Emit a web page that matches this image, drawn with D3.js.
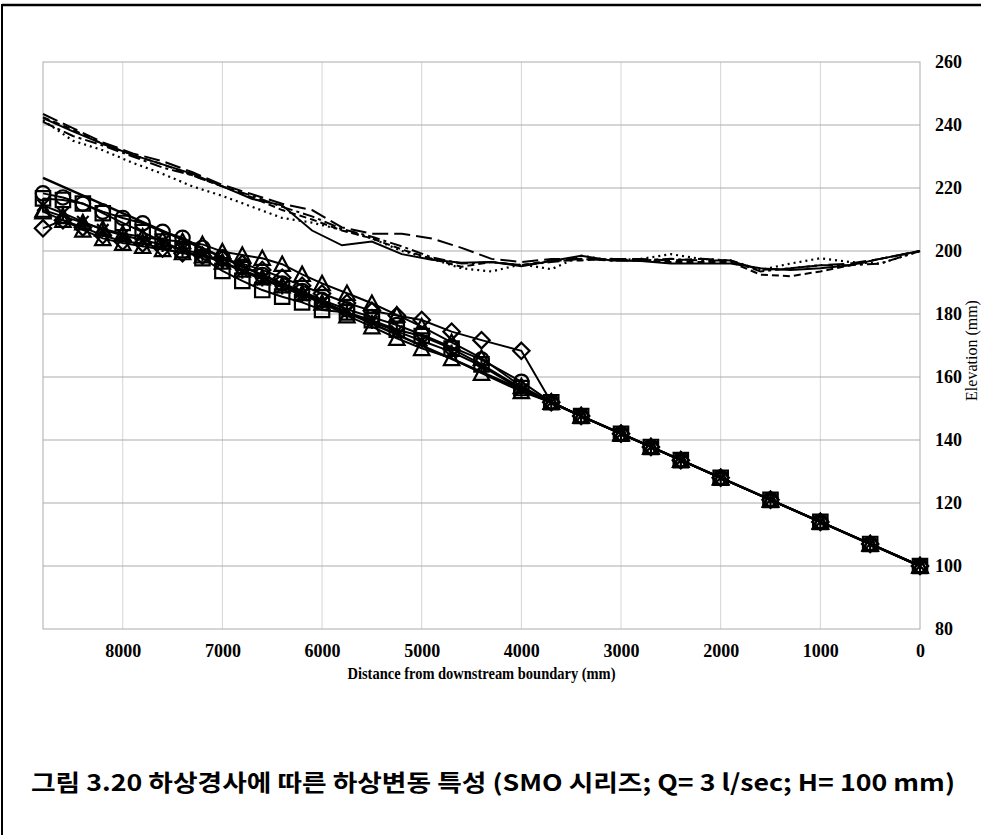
<!DOCTYPE html>
<html>
<head>
<meta charset="utf-8">
<script src="https://cdn.jsdelivr.net/npm/d3@7"></script>
<style>
  html, body { margin: 0; padding: 0; background: #fff; }
  svg { display: block; }
</style>
</head>
<body>
<script>
// Distance from the downstream boundary (mm) at the bed survey stations
const bedDist = [8800, 8600, 8400, 8200, 8000, 7800, 7600, 7400, 7200, 7000, 6800, 6600, 6400, 6200, 6000,
                 5750, 5500, 5250, 5000, 4700, 4400, 4000, 3700, 3400, 3000, 2700, 2400, 2000, 1500, 1000, 500, 0];

// Bed elevation (mm) for each run, one marker style per run
const bedCircle   = [218.3, 217, 215, 212.5, 210.5, 208.8, 206.1, 204.2, 201, 198, 195, 192.4, 189.7, 187.3, 184.4,
                     181.5, 179, 176.5, 173.5, 169.5, 165.5, 158.5, 152, 147.6, 142, 137.8, 133.6, 128, 121, 114, 107, 100];
const bedSquare   = [216.7, 216.2, 215.1, 212, 208.9, 206, 203, 200.3, 197.7, 193.7, 190.5, 187.6, 185.5, 183.7, 181.3,
                     180.5, 178, 175, 173, 169, 164, 156.5, 152, 147.6, 142, 137.8, 133.6, 128, 121, 114, 107, 100];
const bedTriangleA = [213, 211, 209, 207, 205.5, 204.5, 203.5, 203, 202.1, 199.8, 198.7, 197.7, 195.8, 192.6, 189.7,
                     186.6, 183.4, 179.7, 176, 171, 166, 157, 152, 147.6, 142, 137.8, 133.6, 128, 121, 114, 107, 100];
const bedTriangleB = [212.5, 209.8, 206.7, 204, 202.5, 201.5, 200.5, 199.5, 198.5, 196.5, 194, 191.5, 189, 186.5, 183.5,
                     179.5, 176, 172.3, 169.1, 165.9, 161.2, 155.4, 152, 147.6, 142, 137.8, 133.6, 128, 121, 114, 107, 100];
const bedDiamond  = [207.2, 209.8, 207.5, 205, 203, 202.4, 200.8, 199.3, 198.5, 197.5, 196, 194, 191.5, 189, 186.5,
                     183.5, 181, 179.5, 178.1, 174.4, 171.7, 168.3, 152, 147.6, 142, 137.8, 133.6, 128, 121, 114, 107, 100];
const bedCross    = [214.5, 212, 209.3, 206.7, 205, 203.5, 202, 200.5, 199, 196.5, 193.5, 191, 188.5, 186, 183.5,
                     180.5, 177.5, 174.5, 171.5, 168, 163.5, 156, 152, 147.6, 142, 137.8, 133.6, 128, 121, 114, 107, 100];

// Initial bed (straight slope)
const initDist = [8800, 0];
const initBed  = [223.2, 100];

// Water surface elevation (mm)
const wsDist = [8800, 8500, 8200, 7900, 7600, 7300, 7000, 6700, 6400, 6100, 5800, 5500, 5200, 4900, 4600, 4300,
                4000, 3700, 3400, 3100, 2800, 2500, 2200, 1900, 1600, 1300, 1000, 700, 400, 0];
const wsSolid    = [242.2, 238, 234, 230.5, 227.5, 224.5, 220.5, 216.5, 214.5, 206.5, 201.8, 203, 199, 197.2, 196.3, 196.5,
                    195.2, 196.8, 198.5, 197, 196.8, 196, 196, 196, 194.5, 194, 194.5, 195.5, 197.5, 200];
const wsLongDash = [243.5, 239, 234.5, 231, 228.5, 225, 221, 218, 215, 213, 207.5, 205.5, 205.5, 204, 201, 197.5,
                    196.5, 197.5, 197.5, 197.5, 197.5, 197, 197.5, 197, 194, 194.5, 195.5, 196, 197.5, 200];
const wsDash     = [242.5, 238.5, 234, 230.5, 227.5, 224, 220.5, 217, 213, 210, 206.5, 204, 200.5, 197.5, 195, 196.5,
                    195.5, 197, 197, 197.5, 197, 196.5, 196.5, 196.5, 192.5, 192, 193.5, 195.5, 197.5, 200];
const wsDot      = [241.5, 235, 232, 228, 224.5, 220.5, 217.5, 214, 210.5, 209, 206.7, 204, 200, 197.5, 194.5, 193.5,
                    195.8, 194.2, 198.5, 197, 197.5, 199, 197.5, 197, 194, 196, 197.7, 196.5, 196, 200];
const wsDashDot  = [241, 236.5, 233.5, 230, 226.5, 224, 220.5, 217.5, 214, 211, 207, 204.5, 201.5, 198, 196, 196.5,
                    195.5, 196.5, 197.5, 197, 197, 197.5, 197, 197, 193.5, 194.5, 195.5, 195.5, 196, 200];

// Axis ticks
const xTicks = [8000, 7000, 6000, 5000, 4000, 3000, 2000, 1000, 0];
const yTicks = [80, 100, 120, 140, 160, 180, 200, 220, 240, 260];

const W = 981, H = 835;
const plot = { left: 43, right: 920, top: 62, bottom: 629 };
const serif = "'Liberation Serif', 'Times New Roman', serif";

const svg = d3.select("body").append("svg").attr("width", W).attr("height", H);

// Page frame
svg.append("line").attr("x1", 2).attr("x2", W + 5).attr("y1", 5).attr("y2", 5)
  .attr("stroke", "#000").attr("stroke-width", 2.5);
svg.append("line").attr("x1", 2).attr("x2", 2).attr("y1", 4).attr("y2", H + 5)
  .attr("stroke", "#000").attr("stroke-width", 2);

const x = d3.scaleLinear().domain([8800, 0]).range([plot.left, plot.right]);
const y = d3.scaleLinear().domain([80, 260]).range([plot.bottom, plot.top]);

// Gridlines
const grid = svg.append("g");
grid.selectAll("line.v").data(xTicks.filter(d => d > 0)).join("line")
  .attr("x1", d => x(d)).attr("x2", d => x(d))
  .attr("y1", plot.top).attr("y2", plot.bottom)
  .attr("stroke", "#d4d4d4").attr("stroke-width", 1);
grid.selectAll("line.h").data(yTicks.filter(d => d > 80 && d < 260)).join("line")
  .attr("x1", plot.left).attr("x2", plot.right)
  .attr("y1", d => y(d)).attr("y2", d => y(d))
  .attr("stroke", "#ababab").attr("stroke-width", 1);
svg.append("rect")
  .attr("x", plot.left).attr("y", plot.top)
  .attr("width", plot.right - plot.left).attr("height", plot.bottom - plot.top)
  .attr("fill", "none").attr("stroke", "#ababab").attr("stroke-width", 1);

// Axes (labels only)
const xAxis = d3.axisBottom(x).tickValues(xTicks).tickFormat(d3.format("d")).tickSize(0).tickPadding(0);
const gx = svg.append("g").attr("transform", `translate(0,${plot.bottom + 15})`).call(xAxis);
gx.select(".domain").remove();
gx.selectAll("text")
  .attr("font-family", serif)
  .attr("font-weight", "bold").attr("font-size", 18).attr("fill", "#000")
  .attr("dy", "0.71em");

const yAxis = d3.axisRight(y).tickValues(yTicks).tickFormat(d3.format("d")).tickSize(0).tickPadding(0);
const gy = svg.append("g").attr("transform", `translate(${plot.right + 15},0)`).call(yAxis);
gy.select(".domain").remove();
gy.selectAll("text")
  .attr("font-family", serif)
  .attr("font-weight", "bold").attr("font-size", 18).attr("fill", "#000");

// Axis titles
svg.append("text")
  .attr("x", (plot.left + plot.right) / 2).attr("y", 679)
  .attr("text-anchor", "middle")
  .attr("font-family", serif)
  .attr("font-weight", "bold").attr("font-size", 17)
  .attr("textLength", 268).attr("lengthAdjust", "spacingAndGlyphs")
  .text("Distance from downstream boundary (mm)");

svg.append("text")
  .attr("transform", `translate(977,${(plot.top + plot.bottom) / 2 + 5}) rotate(-90)`)
  .attr("text-anchor", "middle")
  .attr("font-family", serif)
  .attr("font-size", 16)
  .text("Elevation (mm)");

const lineGen = d3.line().x(d => x(d[0])).y(d => y(d[1]));
const zipPts = (xs, ys) => xs.map((d, i) => [d, ys[i]]);

// Water surface profiles
const wsSeries = [
  { v: wsSolid,    dash: null,          w: 2 },
  { v: wsLongDash, dash: "16,6",        w: 2 },
  { v: wsDash,     dash: "7,4",         w: 2 },
  { v: wsDot,      dash: "2,4",         w: 2.2 },
  { v: wsDashDot,  dash: "12,4,3,4",    w: 2 }
];
svg.append("g").selectAll("path").data(wsSeries).join("path")
  .attr("d", s => lineGen(zipPts(wsDist, s.v)))
  .attr("fill", "none").attr("stroke", "#000")
  .attr("stroke-width", s => s.w)
  .attr("stroke-dasharray", s => s.dash);

// Initial bed
svg.append("path")
  .attr("d", lineGen(zipPts(initDist, initBed)))
  .attr("fill", "none").attr("stroke", "#000").attr("stroke-width", 2.5);

// Marker outlines, centred on the point
function markerPath(type) {
  const r = 7.2;
  switch (type) {
    case "circle": return d3.symbol(d3.symbolCircle, Math.PI * r * r)();
    case "square": return `M${-r},${-r}H${r}V${r}H${-r}Z`;
    case "triangle": return `M0,${-r - 0.5}L${r + 0.5},${r - 0.5}H${-r - 0.5}Z`;
    case "diamond": return `M0,${-r - 1}L${r + 1},0L0,${r + 1}L${-r - 1},0Z`;
    case "cross": {
      const a = r * 0.8;
      return `M${-a},${-a}L${a},${a}M${a},${-a}L${-a},${a}M0,${-r}V${r}`;
    }
  }
}

const bedSeries = [
  { v: bedDiamond,   m: "diamond" },
  { v: bedTriangleA, m: "triangle" },
  { v: bedTriangleB, m: "triangle" },
  { v: bedCross,     m: "cross" },
  { v: bedSquare,    m: "square" },
  { v: bedCircle,    m: "circle" }
];

const bedG = svg.append("g");
bedSeries.forEach(s => {
  const pts = zipPts(bedDist, s.v);
  bedG.append("path")
    .attr("d", lineGen(pts))
    .attr("fill", "none").attr("stroke", "#000").attr("stroke-width", 2);
  bedG.append("g").selectAll("path").data(pts).join("path")
    .attr("transform", d => `translate(${x(d[0])},${y(d[1])})`)
    .attr("d", markerPath(s.m))
    .attr("fill", "none").attr("stroke", "#000").attr("stroke-width", 2.2);
});

// Figure caption
svg.append("text")
  .attr("x", 31).attr("y", 791)
  .attr("font-family", "'Noto Sans CJK KR', sans-serif")
  .attr("font-weight", "bold").attr("font-size", 23)
  .attr("textLength", 924).attr("lengthAdjust", "spacingAndGlyphs")
  .text("그림 3.20 하상경사에 따른 하상변동 특성 (SMO 시리즈; Q= 3 l/sec; H= 100 mm)");
</script>
</body>
</html>
